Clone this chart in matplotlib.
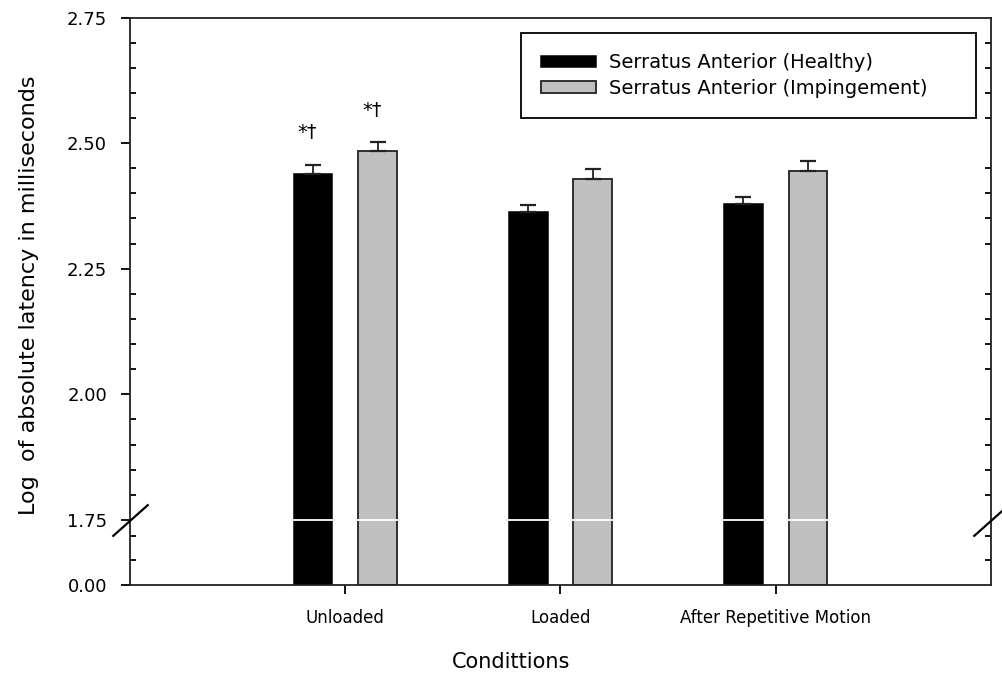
import numpy as np
import matplotlib
matplotlib.use("Agg")
import matplotlib.pyplot as plt
from matplotlib.ticker import FixedLocator, NullLocator

plt.rcParams['font.family'] = ['DejaVu Sans']

conditions = ["Unloaded", "Loaded", "After Repetitive Motion"]
healthy = [2.438, 2.363, 2.378]
healthy_err = [0.019, 0.014, 0.015]
imping = [2.485, 2.428, 2.445]
imping_err = [0.017, 0.020, 0.020]
marks_healthy = ["*\u2020", "", ""]
marks_imping = ["*\u2020", "", ""]
series_names = ["Serratus Anterior (Healthy)", "Serratus Anterior (Impingement)"]
y_major = [0.0, 1.75, 2.0, 2.25, 2.5, 2.75]
y_minor = [0.67, 1.32] + [round(v, 2) for v in np.arange(1.80, 2.75, 0.05) if round(v, 2) not in y_major]

# broken axis: 0..1.75 squeezed into a short strip under 1.75..2.75
BREAK = 1.75
LOW = 0.1294


def fwd(y):
    y = np.asarray(y, dtype=float)
    return np.where(y <= BREAK, y / BREAK * LOW, y - BREAK + LOW)


def inv(t):
    t = np.asarray(t, dtype=float)
    return np.where(t <= LOW, t / LOW * BREAK, t - LOW + BREAK)


fig = plt.figure(figsize=(10.02, 6.81), dpi=100)
ax = fig.add_axes([0.1297, 0.141, 0.8593, 0.8333])
ax.set_yscale('function', functions=(fwd, inv))

x = np.arange(1, len(conditions) + 1)
off, w = 0.15, 0.18
ax.bar(x - off, healthy, w, color='black', edgecolor='black', linewidth=1.1,
       label=series_names[0], zorder=1)
ax.bar(x + off, imping, w, color='#c0c0c0', edgecolor='#222222', linewidth=1.3,
       label=series_names[1], zorder=1)
ax.errorbar(x - off, healthy, yerr=[np.zeros(3), healthy_err], fmt='none',
            ecolor='#222222', elinewidth=1.3, capsize=5.8, capthick=1.6, zorder=3)
ax.errorbar(x + off, imping, yerr=[np.zeros(3), imping_err], fmt='none',
            ecolor='#222222', elinewidth=1.3, capsize=5.8, capthick=1.6, zorder=3)

for xi, v, e, m in zip(x - off, healthy, healthy_err, marks_healthy):
    if m:
        ax.annotate(m, (xi, v + e), xytext=(-4, 19), textcoords='offset points',
                    ha='center', va='baseline', fontsize=14)
for xi, v, e, m in zip(x + off, imping, imping_err, marks_imping):
    if m:
        ax.annotate(m, (xi, v + e), xytext=(-4, 19), textcoords='offset points',
                    ha='center', va='baseline', fontsize=14)

# white gap through the bars at the break
ax.axhline(BREAK, color='white', lw=1.3, zorder=2.2)
# break marks on both spines
ax.plot([0, 1], [BREAK, BREAK], transform=ax.get_yaxis_transform(), ls='none',
        marker=[(-1, -0.89), (1, 0.89)], ms=26, mec='black', mew=1.6,
        clip_on=False, zorder=5)

ax.set_xlim(0, 4)
ax.set_ylim(0, 2.75)
ax.set_xticks(x)
ax.set_xticklabels(conditions, fontsize=12)
ax.xaxis.set_minor_locator(NullLocator())
ax.yaxis.set_major_locator(FixedLocator(y_major))
ax.yaxis.set_minor_locator(FixedLocator(y_minor))
ax.set_yticklabels(["%.2f" % v for v in y_major], fontsize=13)
ax.tick_params(axis='y', which='major', direction='out', length=6.5, width=1.3,
               pad=10, left=True, right=False)
ax.tick_params(axis='y', which='minor', direction='in', length=4, width=1.3,
               left=True, right=True)
ax.tick_params(axis='x', which='major', direction='out', length=6.5, width=1.3,
               pad=11)
for s in ax.spines.values():
    s.set_linewidth(1.3)
    s.set_color('#222222')

ax.set_ylabel("Log  of absolute latency in milliseconds", fontsize=16)
ax.yaxis.set_label_coords(-0.106, 0.511)
ax.set_xlabel("Condittions", fontsize=15)
ax.xaxis.set_label_coords(0.4425, -0.118)

leg = ax.legend(loc='upper left', bbox_to_anchor=(0.454, 0.8215, 0.5286, 0.151),
                mode='expand', fontsize=14, frameon=True, fancybox=False,
                edgecolor='black', framealpha=1, handlelength=2.83,
                handleheight=0.55, handletextpad=0.67, labelspacing=0.33,
                borderaxespad=0, borderpad=1.04)
leg.get_frame().set_linewidth(1.3)

fig.savefig("out.png", dpi=100)
